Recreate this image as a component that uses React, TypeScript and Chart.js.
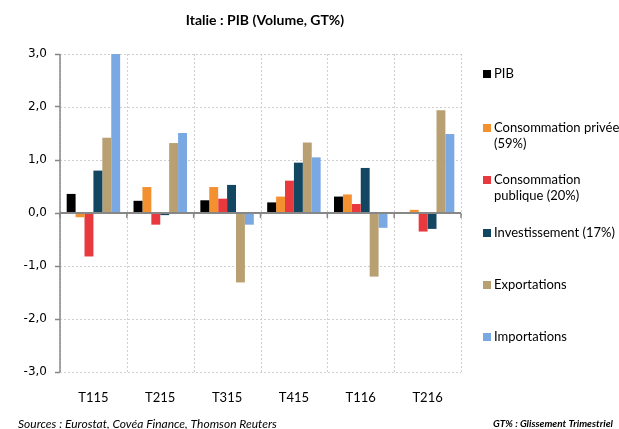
import React, { useEffect, useRef } from "react";
import { Chart, registerables } from "chart.js";

Chart.register(...registerables);

const categories = ["T115", "T215", "T315", "T415", "T116", "T216"];
const seriesLabels = [
  "PIB",
  "Consommation privée\n(59%)",
  "Consommation\npublique (20%)",
  "Investissement (17%)",
  "Exportations",
  "Importations",
];
const pib = [0.36, 0.23, 0.24, 0.2, 0.31, 0.0];
const consoPrivee = [-0.08, 0.49, 0.49, 0.31, 0.35, 0.06];
const consoPublique = [-0.82, -0.22, 0.27, 0.61, 0.17, -0.35];
const investissement = [0.8, -0.04, 0.53, 0.95, 0.85, -0.3];
const exportations = [1.42, 1.32, -1.31, 1.33, -1.2, 1.94];
const importations = [3.0, 1.51, -0.22, 1.05, -0.28, 1.49];
const yTicks = [-3, -2, -1, 0, 1, 2, 3];
const colors = ["#000000", "#F39130", "#E8393F", "#134660", "#B8A072", "#7AA8E3"];

const titleText = "Italie : PIB (Volume, GT%)";
const sourceText = "Sources : Eurostat, Covéa Finance, Thomson Reuters";
const noteText = "GT% : Glissement Trimestriel";

const TXT = "Lato, 'Open Sans', sans-serif";

const overlay = {
  id: "overlay",
  beforeDatasetsDraw(chart: any) {
    const { ctx, chartArea } = chart;
    const y = chart.scales.y;
    const x = chart.scales.x;
    ctx.save();
    ctx.strokeStyle = "#D0D0D0";
    ctx.lineWidth = 1;
    ctx.setLineDash([2, 2]);
    yTicks.forEach((v) => {
      const py = Math.round(y.getPixelForValue(v)) + 0.5;
      ctx.beginPath();
      ctx.moveTo(chartArea.left, py);
      ctx.lineTo(chartArea.right, py);
      ctx.stroke();
    });
    const step = x.getPixelForValue(1) - x.getPixelForValue(0);
    for (let i = 0; i <= categories.length; i++) {
      const px = Math.round(x.getPixelForValue(0) - step / 2 + i * step) + 0.5;
      ctx.beginPath();
      ctx.moveTo(px, chartArea.top);
      ctx.lineTo(px, chartArea.bottom);
      ctx.stroke();
    }
    ctx.restore();
  },
  afterDatasetsDraw(chart: any) {
    const { ctx, chartArea } = chart;
    const y = chart.scales.y;
    const x = chart.scales.x;
    const y0 = y.getPixelForValue(0);
    ctx.save();
    ctx.strokeStyle = "#878787";
    ctx.lineWidth = 1.5;
    ctx.beginPath();
    ctx.moveTo(chartArea.left, chartArea.top);
    ctx.lineTo(chartArea.left, chartArea.bottom);
    ctx.stroke();
    ctx.lineWidth = 2;
    ctx.beginPath();
    ctx.moveTo(chartArea.left, y0);
    ctx.lineTo(chartArea.right, y0);
    ctx.stroke();
    ctx.lineWidth = 1.5;
    const step = x.getPixelForValue(1) - x.getPixelForValue(0);
    for (let i = 0; i <= categories.length; i++) {
      const px = x.getPixelForValue(0) - step / 2 + i * step;
      ctx.beginPath();
      ctx.moveTo(px, y0);
      ctx.lineTo(px, y0 + 5);
      ctx.stroke();
    }
    ctx.restore();
  },
  afterDraw(chart: any) {
    const { ctx } = chart;
    ctx.save();
    ctx.fillStyle = "#000";
    ctx.textBaseline = "middle";
    ctx.font = `bold 14px ${TXT}`;
    ctx.textAlign = "center";
    ctx.fillText(titleText, 265, 20);
    ctx.textAlign = "left";
    ctx.font = `13px ${TXT}`;
    const legendY = [74, 128, 180, 233, 285, 337];
    chart.data.datasets.forEach((ds: any, i: number) => {
      ctx.fillStyle = ds.backgroundColor;
      ctx.fillRect(483, legendY[i] - 4, 8, 8);
      ctx.fillStyle = "#000";
      String(ds.label)
        .split("\n")
        .forEach((line: string, j: number) => {
          ctx.fillText(line, 494, legendY[i] + j * 16);
        });
    });
    ctx.font = `italic 12px ${TXT}`;
    ctx.fillText(sourceText, 18, 424);
    ctx.font = `italic bold 10px ${TXT}`;
    ctx.fillText(noteText, 493, 424);
    ctx.restore();
  },
};

export default function App() {
  const ref = useRef<HTMLCanvasElement>(null);
  useEffect(() => {
    document.body.style.margin = "0";
    const series = [pib, consoPrivee, consoPublique, investissement, exportations, importations];
    const chart = new Chart(ref.current as HTMLCanvasElement, {
      type: "bar",
      data: {
        labels: categories,
        datasets: series.map((d, i) => ({
          label: seriesLabels[i],
          data: d,
          backgroundColor: colors[i],
          borderWidth: 0,
          categoryPercentage: 0.8,
          barPercentage: 1.0,
        })),
      },
      options: {
        responsive: false,
        animation: false,
        layout: { padding: { top: 54, right: 158, left: 0, bottom: 0 } },
        plugins: { legend: { display: false }, tooltip: { enabled: false }, title: { display: false } },
        scales: {
          x: {
            offset: true,
            grid: { display: false },
            border: { display: false },
            ticks: { color: "#000", font: { family: TXT, size: 13 }, padding: 10 },
            afterFit(scale: any) {
              scale.height = 57;
            },
          },
          y: {
            min: -3,
            max: 3,
            afterBuildTicks(scale: any) {
              scale.ticks = yTicks.map((v) => ({ value: v }));
            },
            grid: { drawOnChartArea: false, tickColor: "#878787", tickLength: 5, tickWidth: 1.5 },
            border: { display: false },
            ticks: {
              color: "#000",
              font: { family: "'DejaVu Sans', Verdana, sans-serif", size: 12 },
              padding: 8,
              callback: (v: any) => Number(v).toFixed(1).replace(".", ","),
            },
            afterFit(scale: any) {
              scale.width = 60;
            },
          },
        },
      },
      plugins: [overlay],
    });
    return () => chart.destroy();
  }, []);
  return (
    <div style={{ position: "absolute", left: 0, top: 0, width: 619, height: 429 }}>
      <canvas ref={ref} width={619} height={429} style={{ width: 619, height: 429 }} />
    </div>
  );
}
